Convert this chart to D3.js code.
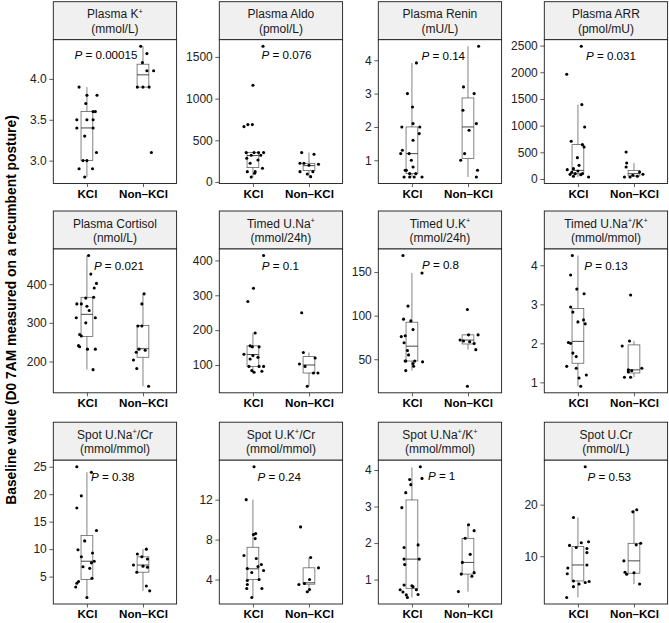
<!DOCTYPE html>
<html><head><meta charset="utf-8">
<script src="https://cdn.jsdelivr.net/npm/d3@7"></script>
<style>body{margin:0;background:#fff}svg{display:block}text{font-family:"Liberation Sans",Arial,sans-serif}</style>
</head><body>
<svg id="c" width="669" height="623"></svg>
<script>
const groups = ["KCl", "Non\u2013KCl"];
const titles = [
  ["Plasma K^+", "(mmol/L)"], ["Plasma Aldo", "(pmol/L)"], ["Plasma Renin", "(mU/L)"], ["Plasma ARR", "(pmol/mU)"],
  ["Plasma Cortisol", "(nmol/L)"], ["Timed U.Na^+", "(mmol/24h)"], ["Timed U.K^+", "(mmol/24h)"], ["Timed U.Na^+/K^+", "(mmol/mmol)"],
  ["Spot U.Na^+/Cr", "(mmol/mmol)"], ["Spot U.K^+/Cr", "(mmol/mmol)"], ["Spot U.Na^+/K^+", "(mmol/mmol)"], ["Spot U.Cr", "(mmol/L)"]
];
const pValues = ["0.00015", "0.076", "0.14", "0.031", "0.021", "0.1", "0.8", "0.13", "0.38", "0.24", "1", "0.53"];
const pLabelX = [1.34, 1.60, 1.56, 1.59, 1.57, 1.49, 1.51, 1.50, 1.46, 1.47, 1.53, 1.56];
const pLabelY = [4.30, 1524, 4.12, 2300, 447, 384, 158.8, 3.99, 23.2, 14.27, 3.85, 25.4];
const yTicks = [
  [3.0, 3.5, 4.0], [0, 500, 1000, 1500], [1, 2, 3, 4], [0, 500, 1000, 1500, 2000, 2500],
  [200, 300, 400], [100, 200, 300, 400], [50, 100, 150], [1, 2, 3, 4],
  [5, 10, 15, 20, 25], [4, 8, 12], [1, 2, 3, 4], [10, 20]
];
const yTickDecimals = [1, 0, 0, 0, 0, 0, 0, 0, 0, 0, 0, 0];

// points: [value, horizontal jitter in category units]
const kclPoints = [
  [[3.9,-0.14],[3.8,0],[3.8,0.18],[3.7,-0.02],[3.6,0.11],[3.6,0.15],[3.5,-0.18],[3.5,0],[3.5,0.11],[3.4,-0.18],[3.4,0.11],[3.3,-0.04],[3.1,0.17],[3.0,-0.07],[3.0,0],[2.9,-0.14],[2.9,0.10],[2.8,-0.04]],
  [[1628,0.18],[1160,0],[688,-0.01],[688,-0.09],[664,-0.16],[352,-0.12],[352,0.02],[352,0.10],[352,0.19],[320,-0.03],[320,0.14],[284,-0.11],[264,0.09],[224,-0.05],[164,0.17],[124,-0.10],[124,0.04],[104,0.03],[60,-0.03]],
  [[3.92,0.08],[3.0,-0.08],[2.6,0.01],[2.1,0.02],[2.0,-0.18],[2.0,0.14],[1.8,0.13],[1.6,0.02],[1.3,-0.17],[1.2,-0.20],[1.2,-0.05],[1.0,-0.01],[0.8,0.02],[0.7,-0.1],[0.7,-0.12],[0.6,-0.04],[0.6,0.07],[0.5,-0.14],[0.5,-0.04],[0.5,0.04],[0.5,0.18]],
  [[2488,0.06],[1963,-0.20],[1394,0.07],[975,0.12],[706,-0.12],[644,0.08],[600,0.11],[400,-0.01],[256,0.02],[194,-0.08],[175,-0.19],[150,0],[125,-0.11],[100,-0.05],[100,0.08],[87,-0.14],[80,0.05],[50,-0.08],[38,0.19]],
  [[474,0.03],[426,0.07],[402,0.17],[390,0.13],[366,0.12],[364,-0.02],[349,-0.18],[349,-0.10],[343,0],[332,0.04],[313,-0.19],[313,0.15],[300,-0.02],[270,-0.13],[266,-0.10],[241,-0.15],[238,-0.13],[232,0.01],[232,0.15],[179,0.11]],
  [[414,0.19],[320,0.01],[282,-0.09],[192,0.04],[155,-0.05],[152,-0.01],[152,0.11],[131,-0.16],[127,0],[122,0.09],[117,-0.05],[96,0.19],[96,0.11],[96,-0.07],[84,-0.02],[79,0.02],[82,0.16]],
  [[169,-0.16],[149,0.18],[111,-0.07],[96,-0.15],[94,-0.02],[84,0.02],[77,-0.12],[76,-0.19],[69,-0.14],[60,-0.08],[55,-0.06],[48,-0.11],[48,-0.12],[48,0.05],[47,0.19],[45,0.02],[42,0.03],[37,-0.11]],
  [[4.25,-0.10],[3.75,-0.13],[3.39,-0.02],[3.27,0.11],[2.93,-0.13],[2.80,-0.09],[2.60,0.10],[2.55,0],[2.50,0.13],[2.02,-0.17],[2.0,-0.13],[1.75,-0.09],[1.66,-0.03],[1.41,-0.20],[1.36,-0.03],[1.19,0.15],[1.11,0.02],[0.90,0.05]],
  [[25,-0.18],[24,0.08],[19.7,-0.1],[17.5,-0.18],[13.4,0.17],[11.5,-0.04],[9.9,-0.16],[9.3,0.10],[8.6,-0.1],[7.8,0.13],[7.5,0.08],[6.8,-0.07],[6.5,0.05],[4.7,0.09],[4.1,-0.15],[3.8,-0.18],[3.1,-0.2],[1.2,0]],
  [[15.3,0.02],[12.0,-0.12],[8.6,0.05],[8.5,0.01],[8.1,0.04],[6.4,-0.16],[6.1,0.06],[5.5,0.15],[5.3,0.09],[5.1,-0.1],[4.9,0.19],[4.7,-0.02],[4.0,0.11],[3.9,-0.1],[3.5,-0.1],[3.1,-0.11],[3.1,0.16],[2.2,-0.02]],
  [[4.09,0.15],[3.77,0.18],[3.74,-0.04],[3.6,-0.02],[3.38,-0.11],[2.97,-0.18],[1.95,0.11],[1.88,-0.14],[1.56,-0.14],[1.56,0.13],[1.41,-0.13],[0.85,-0.14],[0.83,0],[0.8,0.02],[0.72,-0.21],[0.72,0.08],[0.66,-0.16],[0.58,-0.1],[0.59,0.11],[0.51,-0.08]],
  [[27.35,0.13],[17.5,-0.08],[12.8,0.19],[12.6,0.06],[12.1,-0.15],[11.7,-0.03],[11.5,0.16],[10.7,0.16],[8.3,0.16],[7.7,-0.18],[6.6,-0.19],[5.2,-0.08],[5.1,0.2],[4.9,0.13],[4.6,0.02],[4.1,-0.08],[2.0,-0.2]]
];
const nonPoints = [
  [[4.4,-0.04],[4.31,0.07],[4.2,-0.01],[4.1,0.07],[4.1,0.19],[3.9,-0.1],[3.9,0],[3.9,0.11],[3.1,0.15]],
  [[352,-0.13],[332,0.09],[224,-0.16],[224,-0.09],[212,0.17],[200,0],[124,-0.16],[124,0.07],[96,-0.03],[64,0.03]],
  [[4.42,0.19],[3.2,-0.08],[3.0,0.11],[2.5,-0.09],[2.1,0.15],[1.9,0.02],[1.2,-0.06],[1.0,-0.13],[0.7,0.17],[0.5,0.15]],
  [[506,-0.14],[300,-0.13],[225,-0.14],[131,0.10],[88,0.16],[69,-0.02],[50,0.06],[38,-0.17],[38,-0.07]],
  [[375,0.02],[349,-0.02],[292,-0.02],[292,-0.09],[232,-0.07],[229,0.04],[224,-0.12],[204,-0.17],[182,-0.11],[136,0.10]],
  [[250,-0.13],[136,-0.1],[120,0.11],[103,-0.17],[96,-0.07],[77,0.08],[77,0.16],[39,-0.03]],
  [[107,-0.01],[78,0.01],[78,0.18],[72,-0.14],[71,-0.08],[70,0.03],[68,0.11],[61,0.14],[19,-0.01]],
  [[3.24,-0.06],[2.06,-0.08],[1.93,-0.21],[1.36,0.14],[1.32,-0.10],[1.30,-0.04],[1.27,-0.1],[1.13,-0.17],[1.13,-0.06]],
  [[10,0.06],[9.1,-0.1],[8.6,-0.02],[8.2,0.08],[7.1,-0.17],[6.9,0],[6.7,0.08],[5.8,-0.11],[3.3,0.06],[2.4,0.12]],
  [[9.27,-0.15],[6.2,0.03],[5.17,0.17],[4.0,0.01],[3.6,-0.08],[3.5,-0.18],[3.0,0.01],[2.77,-0.03]],
  [[2.5,0.01],[2.34,0.11],[2.13,-0.05],[1.69,0.04],[1.47,-0.1],[1.19,0.11],[1.15,-0.12],[1.09,0.07],[0.67,-0.17]],
  [[19.0,0.05],[18.6,-0.02],[12.5,0.12],[12.2,0.04],[9.1,-0.18],[6.9,-0.16],[6.8,0],[6.5,-0.13],[4.6,0.1]]
];
// box stats: [lower whisker, Q1, median, Q3, upper whisker]
const kclBox = [
  [2.8,3.0,3.4,3.6,3.9], [60,172,316,352,352], [0.5,0.6,1.2,2.0,3.92], [38,100,162,644,1394],
  [179,265,322,366,474], [79,96,130,155,192], [37,48,65,92.5,149], [0.9,1.49,2.05,2.89,4.25],
  [1.2,4.5,7.8,12.5,24], [2.2,4.0,5.07,7.23,12], [0.51,0.76,1.56,3.18,4.07], [2.0,5.2,8.3,11.9,17.5]
];
const nonBox = [
  [3.9,3.9,4.05,4.18,4.4], [64,136,196,224,352], [0.5,1.05,2.0,2.87,4.42], [38,56,100,162,300],
  [136,211,233,293,375], [39,77,100,124,136], [61,67.5,72,78,78], [1.13,1.24,1.32,1.96,2.06],
  [2.4,5.8,7.1,8.6,10], [2.77,3.53,3.67,5.17,6.2], [0.67,1.15,1.47,2.13,2.5], [4.6,6.7,9.1,12.5,19.0]
];

// layout
const colLeft = [53.3, 219.3, 378.3, 544.3];
const rowTop = [39.7, 249.0, 460.2];
const panelW = 123.3, panelH = 143.8, stripH = 38;
const FONT = '"Liberation Sans",Arial,sans-serif';

const svg = d3.select("#c");

function addSup(sel, str, size) {
  const parts = str.split("^+");
  const shift = size * 0.38;
  let lifted = false;
  parts.forEach((p, i) => {
    if (p) {
      const t = sel.append("tspan").text(p);
      if (lifted) { t.attr("dy", shift); lifted = false; }
    }
    if (i < parts.length - 1) {
      sel.append("tspan").attr("font-size", size * 0.62).attr("dy", lifted ? 0 : -shift).text("+");
      lifted = true;
    }
  });
}

for (let i = 0; i < 12; i++) {
  const r = Math.floor(i / 4), c = i % 4;
  const L = colLeft[c], T = rowTop[r];
  const g = svg.append("g");
  const all = kclPoints[i].concat(nonPoints[i]).map(d => d[0]);
  const mn = d3.min(all), mx = d3.max(all), pad = (mx - mn) * 0.05;
  const y = d3.scaleLinear().domain([mn - pad, mx + pad]).range([T + panelH, T]);
  const x = d3.scalePoint().domain(groups).range([L, L + panelW]).padding(0.6);
  const step = x.step();
  const bw = 0.21 * step;

  // strip
  g.append("rect").attr("x", L).attr("y", T - stripH).attr("width", panelW).attr("height", stripH)
    .attr("fill", "#f0f0f0").attr("stroke", "#1a1a1a").attr("stroke-width", 0.9);
  const t1 = g.append("text").attr("x", L + panelW / 2).attr("y", T - stripH + 16.5)
    .attr("text-anchor", "middle").attr("font-size", 12).attr("fill", "#1a1a1a");
  addSup(t1, titles[i][0], 12);
  g.append("text").attr("x", L + panelW / 2).attr("y", T - stripH + 31)
    .attr("text-anchor", "middle").attr("font-size", 12).attr("fill", "#1a1a1a").text(titles[i][1]);

  // panel background
  g.append("rect").attr("x", L).attr("y", T).attr("width", panelW).attr("height", panelH).attr("fill", "#fff");

  // boxplots
  [kclBox[i], nonBox[i]].forEach((b, k) => {
    const cx = x(groups[k]);
    const bg = g.append("g").attr("stroke", "#595959").attr("stroke-width", 0.75).attr("fill", "none");
    bg.append("line").attr("x1", cx).attr("x2", cx).attr("y1", y(b[4])).attr("y2", y(b[3]));
    bg.append("line").attr("x1", cx).attr("x2", cx).attr("y1", y(b[1])).attr("y2", y(b[0]));
    bg.append("rect").attr("x", cx - bw / 2).attr("width", bw).attr("y", y(b[3])).attr("height", y(b[1]) - y(b[3]));
    bg.append("line").attr("x1", cx - bw / 2).attr("x2", cx + bw / 2).attr("y1", y(b[2])).attr("y2", y(b[2])).attr("stroke", "#333").attr("stroke-width", 0.9);
  });

  // points
  [kclPoints[i], nonPoints[i]].forEach((pts, k) => {
    g.selectAll(null).data(pts).enter().append("circle")
      .attr("cx", d => x(groups[k]) + d[1] * step).attr("cy", d => y(d[0])).attr("r", 1.55).attr("fill", "#000");
  });

  // P label
  const pl = g.append("text").attr("x", L + (pLabelX[i] - 0.4) / 2.2 * panelW).attr("y", y(pLabelY[i])).attr("dy", "0.36em")
    .attr("text-anchor", "middle").attr("font-size", 11.6).attr("fill", "#000");
  pl.append("tspan").attr("font-style", "italic").text("P");
  pl.append("tspan").text(" = " + pValues[i]);

  // border
  g.append("rect").attr("x", L).attr("y", T).attr("width", panelW).attr("height", panelH)
    .attr("fill", "none").attr("stroke", "#1a1a1a").attr("stroke-width", 0.9);

  // axes
  const dec = yTickDecimals[i];
  const ya = g.append("g").attr("transform", `translate(${L},0)`)
    .call(d3.axisLeft(y).tickValues(yTicks[i]).tickSize(4).tickPadding(2.5).tickFormat(d => d.toFixed(dec)));
  ya.select(".domain").remove();
  ya.selectAll("line").attr("stroke", "#333").attr("stroke-width", 0.8);
  ya.selectAll("text").attr("font-size", 12).attr("fill", "#222").attr("font-family", FONT);

  const xa = g.append("g").attr("transform", `translate(0,${T + panelH})`)
    .call(d3.axisBottom(x).tickSize(3.5).tickPadding(2.5));
  xa.select(".domain").remove();
  xa.selectAll("line").attr("stroke", "#333").attr("stroke-width", 0.8);
  xa.selectAll("text").attr("font-size", 11.6).attr("font-weight", "bold").attr("fill", "#000").attr("font-family", FONT);
}

svg.append("text").attr("transform", "translate(11,310) rotate(-90)").attr("text-anchor", "middle")
  .attr("dy", "0.36em").attr("font-size", 13.8).attr("font-weight", "bold").attr("fill", "#000")
  .text("Baseline value (D0 7AM measured on a recumbent posture)");
</script>
</body></html>
